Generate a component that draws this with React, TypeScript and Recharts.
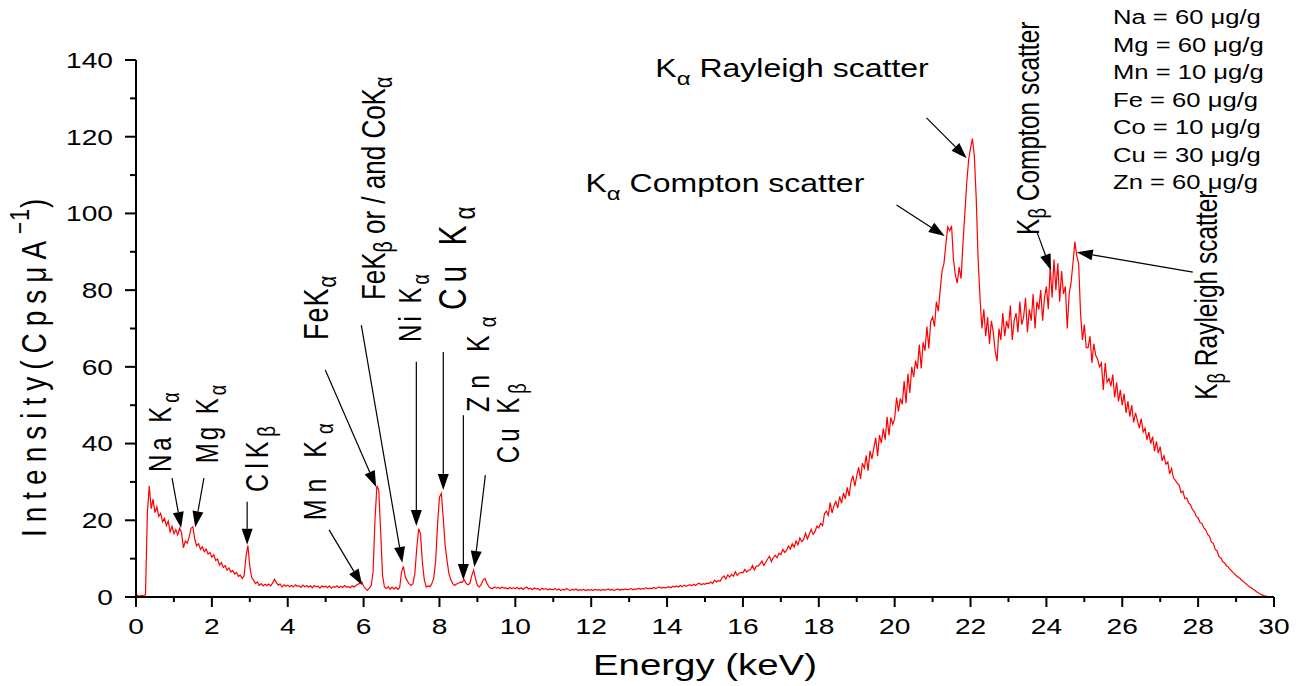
import React from "react";
import { LineChart, Line, XAxis, YAxis, ReferenceLine, ReferenceDot, Label } from "recharts";

// spectrum channels: 0.05 keV wide, starting at 0 keV
const CHANNEL_START = 0;
const CHANNEL_STEP = 0.05;

const counts0to5 = [
  0.3, 0.4, 0.2, 0.4, 0.3, 0.6, 22, 28.9, 23, 25.5, 22, 23.5, 21, 21.8, 19.6, 20.5, 18.6, 19.8, 17, 18.4,
  16.5, 17.6, 16.2, 17.9, 16.8, 12.8, 14.6, 14.0, 15.6, 17.9, 18.3, 15.0, 13.3, 13.9, 12.4, 13.1, 11.8, 12.5, 11.2, 11.6,
  10.4, 11.0, 9.5, 9.9, 8.3, 9.0, 7.7, 8.2, 7.0, 7.6, 6.5, 6.9, 6.0, 6.4, 5.4, 5.7, 4.8, 5.6, 10.5, 13.4,
  8.0, 5.0, 4.4, 3.5, 3.9, 3.0, 3.5, 2.9, 3.3, 3.0, 3.4, 2.9, 3.6, 4.6, 3.8, 3.1, 3.4, 2.6, 3.2, 2.8,
  3.1, 2.7, 3.0, 2.6, 3.2, 2.8, 2.9, 2.5, 3.1, 2.7, 3.0, 2.6, 2.9, 2.4, 3.0, 2.7, 2.8, 2.3, 2.9, 2.6,
];

const counts5to10 = [
  2.8, 2.4, 2.9, 2.3, 2.7, 2.5, 2.9, 2.4, 2.8, 2.5, 3.0, 2.6, 2.7, 2.4, 2.9, 2.6, 3.0, 3.3, 3.6, 4.0,
  2.8, 2.2, 1.7, 2.3, 3.0, 6.5, 20, 29.0, 27.8, 17, 5.5, 2.6, 2.2, 2.7, 2.0, 2.6, 2.1, 2.5, 2.0, 2.4,
  6.5, 8.0, 5.2, 4.2, 3.5, 3.0, 3.4, 6.0, 12.5, 17.8, 16.5, 9.0, 4.5, 2.6, 2.9, 2.7, 3.5, 5.0, 9.5, 19,
  26.0, 27.0, 20.5, 13.5, 9.5, 6.0, 4.5, 3.5, 3.0, 3.4, 3.6, 3.9, 3.8, 4.5, 3.6, 3.2, 3.5, 5.5, 7.0, 4.8,
  3.0, 2.6, 3.2, 4.4, 4.8, 3.6, 2.7, 2.3, 2.2, 2.6, 2.3, 2.5, 2.2, 2.6, 2.3, 2.4, 2.1, 2.5, 2.2, 2.4,
];

const counts10to15 = [
  2.2, 2.5, 2.1, 2.4, 2.0, 2.3, 2.6, 2.1, 2.3, 1.9, 2.4, 2.1, 2.2, 1.8, 2.3, 2.0, 2.2, 1.9, 2.1, 2.0,
  1.9, 2.2, 1.8, 2.1, 1.7, 2.0, 1.8, 2.2, 1.9, 1.7, 2.0, 1.8, 2.1, 1.7, 1.9, 1.8, 2.0, 1.7, 1.9, 1.8,
  1.9, 1.7, 2.0, 1.8, 1.9, 1.7, 2.0, 1.8, 1.9, 2.1, 1.8, 2.0, 1.7, 1.9, 2.1, 1.8, 2.0, 1.9, 2.1, 1.9,
  2.0, 2.2, 1.9, 2.1, 2.0, 2.3, 2.0, 2.2, 2.1, 2.4, 2.1, 2.3, 2.2, 2.5, 2.2, 2.4, 2.6, 2.3, 2.5, 2.4,
  2.5, 2.7, 2.4, 2.8, 2.6, 2.9, 2.6, 3.0, 2.7, 3.1, 2.8, 3.0, 3.2, 2.9, 3.3, 3.0, 3.4, 3.6, 3.2, 3.5,
];

const counts15to20 = [
  3.3, 3.6, 3.5, 3.9, 3.5, 4.4, 3.9, 4.3, 4.1, 5.0, 5.5, 4.7, 5.8, 5.2, 5.9, 5.4, 6.6, 5.6, 6.2, 6.4,
  6.3, 7.2, 6.5, 7.0, 7.1, 8.2, 7.0, 8.0, 8.1, 8.6, 9.4, 8.2, 9.0, 9.9, 10.6, 9.2, 10.3, 10.9, 10.2, 11.4,
  11.0, 12.4, 11.6, 12.2, 13.3, 12.5, 13.9, 13.0, 14.6, 13.6, 15.4, 14.4, 15.0, 16.6, 15.1, 16.4, 17.6, 16.3, 17.1, 18.5,
  18.0, 19.2, 18.6, 21.8, 22.4, 21.3, 24.6, 21.9, 23.8, 24.9, 23.2, 26.2, 24.4, 27.1, 25.6, 28.6, 26.3, 30.1, 31.6, 28.9,
  31.5, 33.8, 30.8, 34.9, 33.6, 36.9, 32.9, 38.1, 36.0, 38.8, 41.5, 36.8, 42.2, 40.1, 43.9, 41.0, 47.0, 42.2, 46.8, 45.0,
];

const counts20to25 = [
  46.5, 52.0, 48.4, 51.8, 50.2, 56.3, 50.5, 58.2, 53.2, 60.0, 57.4, 61.6, 59.5, 65.8, 59.6, 66.4, 64.2, 70.5, 64.8, 71.8,
  73, 70.5, 77, 74.5, 80, 85, 87, 92, 96.5, 95.5, 96.7, 88, 84, 81.8, 86, 83, 92, 100, 108, 114,
  117, 119.5, 115, 104, 88, 78, 70, 75, 68, 73, 66, 72, 69, 64, 61.5, 70, 67, 74, 68, 72,
  70, 76, 67, 72, 74, 69, 77, 71, 73, 78, 69, 75, 72, 79, 70, 77, 75, 80, 72, 78,
  81, 75, 86, 78, 88, 80, 87, 77, 85, 79, 81, 70, 79, 82, 87, 92.6, 89, 87, 74, 67,
];

const counts25to30 = [
  71, 65, 65, 68, 61, 66, 63, 62, 60, 61, 54, 61, 56, 57, 55, 58, 52, 56, 51, 54,
  50, 53, 48, 51, 47, 50, 45.5, 48, 46, 44, 46.5, 43, 44, 41, 43, 40, 41.8, 38, 40.6, 37.5,
  39.2, 35.5, 36.8, 34.6, 35.2, 32.1, 33.5, 31, 30.4, 29.6, 29.2, 27.2, 27.6, 25.6, 25.8, 24.5, 24, 22.8, 22.2, 21,
  20.6, 19.4, 19.2, 18, 17.5, 16.3, 15.8, 14.3, 14.0, 12.4, 12.0, 10.5, 10.2, 9.2, 8.8, 8.1, 7.8, 7.1, 6.6, 6.1,
  5.6, 5.2, 4.9, 4.3, 4.0, 3.5, 3.1, 2.7, 2.4, 2.0, 1.7, 1.3, 1.0, 0.7, 0.5, 0.3, 0.2, 0.1, 0.1, 0.05,
  0,
];

const energyTicks = [
  0, 1, 2, 3, 4, 5, 6, 7, 8, 9, 10, 11, 12, 13, 14, 15,
  16, 17, 18, 19, 20, 21, 22, 23, 24, 25, 26, 27, 28, 29, 30,
];
const intensityTicks = [0, 10, 20, 30, 40, 50, 60, 70, 80, 90, 100, 110, 120, 130, 140];

const concentrations = [
  "Na = 60 μg/g",
  "Mg = 60 μg/g",
  "Mn = 10 μg/g",
  "Fe = 60 μg/g",
  "Co = 10 μg/g",
  "Cu = 30 μg/g",
  "Zn = 60 μg/g",
];

// _x = subscript, ^{..} = superscript
const peakLabels = [
  { markup: "Na K_α", energy: 0.63, intensity: 32.6, size: 24, spacing: 4, vertical: true },
  { markup: "Mg K_α", energy: 1.87, intensity: 34.9, size: 24, spacing: 3, vertical: true },
  { markup: "ClK_β", energy: 3.19, intensity: 27.4, size: 25, spacing: 5, vertical: true },
  { markup: "Mn K_α", energy: 4.72, intensity: 20, size: 25, spacing: 7, vertical: true },
  { markup: "FeK_α", energy: 4.75, intensity: 67, size: 27, spacing: 1, vertical: true },
  { markup: "FeK_β or / and CoK_α", energy: 6.23, intensity: 77.4, size: 26, spacing: 0, vertical: true },
  { markup: "Ni K_α", energy: 7.23, intensity: 66.5, size: 24, spacing: 3, vertical: true },
  { markup: "Cu K_α", energy: 8.36, intensity: 74.8, size: 30, spacing: 6, vertical: true },
  { markup: "Zn K_α", energy: 9.02, intensity: 48.2, size: 25, spacing: 8, vertical: true },
  { markup: "Cu K_β", energy: 9.79, intensity: 34.9, size: 24, spacing: 4, vertical: true },
  { markup: "K_β Compton scatter", energy: 23.5, intensity: 94.4, size: 24.5, spacing: 0, vertical: true },
  { markup: "K_β Rayleigh scatter", energy: 28.2, intensity: 51.4, size: 24.5, spacing: 0, vertical: true },
  { markup: "K_α Rayleigh scatter", energy: 13.69, intensity: 135.6, size: 25, spacing: 0, vertical: false },
  { markup: "K_α Compton scatter", energy: 11.85, intensity: 105.6, size: 25, spacing: 0, vertical: false },
];

// [from energy, from intensity, to energy, to intensity]
const arrows = [
  [0.95, 31.0, 1.19, 18.0],
  [1.79, 31.0, 1.56, 18.2],
  [2.93, 24.8, 2.93, 13.6],
  [5.09, 17.5, 5.96, 3.1],
  [4.99, 59.2, 6.33, 28.7],
  [5.94, 70.9, 7.02, 8.9],
  [7.39, 61.3, 7.39, 18.5],
  [8.1, 63.9, 8.1, 27.9],
  [8.63, 47.4, 8.63, 4.4],
  [9.21, 31.8, 8.92, 7.8],
  [20.84, 124.9, 21.9, 114.4],
  [20.05, 102.2, 21.32, 94.1],
  [23.75, 95.2, 24.12, 85.2],
  [27.86, 84.7, 24.8, 89.9],
];

const spectrum = [
  ...counts0to5,
  ...counts5to10,
  ...counts10to15,
  ...counts15to20,
  ...counts20to25,
  ...counts25to30,
].map((intensity, i) => ({
  energy: Math.round((CHANNEL_START + i * CHANNEL_STEP) * 100) / 100,
  intensity,
}));

const FONT = "'Liberation Sans', Arial, sans-serif";
// the original figure is stretched sideways, so text is too
const STRETCH = 1.28;

function parseMarkup(s: string) {
  const out: { text: string; shift: number }[] = [];
  let buf = "";
  for (let i = 0; i < s.length; i++) {
    const c = s[i];
    if (c === "_" || c === "^") {
      if (buf) out.push({ text: buf, shift: 0 });
      buf = "";
      let t = "";
      if (s[i + 1] === "{") {
        const j = s.indexOf("}", i);
        t = s.slice(i + 2, j);
        i = j;
      } else {
        t = s[i + 1];
        i++;
      }
      out.push({ text: t, shift: c === "_" ? 1 : -1 });
    } else {
      buf += c;
    }
  }
  if (buf) out.push({ text: buf, shift: 0 });
  return out;
}

function RichText({ x, y, markup, size, spacing = 0, vertical = false, anchor = "start" }: any) {
  let offset = 0;
  const pieces = parseMarkup(markup).map((p, k) => {
    const target = p.shift === 1 ? 0.32 * size : p.shift === -1 ? -0.42 * size : 0;
    const dy = target - offset;
    offset = target;
    return (
      <tspan
        key={k}
        dy={dy}
        fontSize={p.shift ? size * 0.75 : size}
        letterSpacing={p.shift === -1 ? 1 : spacing}
      >
        {p.text}
      </tspan>
    );
  });
  return (
    <text
      transform={`translate(${x},${y}) scale(${STRETCH},1)${vertical ? " rotate(-90)" : ""}`}
      fontFamily={FONT}
      fontSize={size}
      textAnchor={anchor}
      dominantBaseline={vertical ? "central" : "alphabetic"}
      fill="#000"
      style={{ whiteSpace: "pre" }}
    >
      {pieces}
    </text>
  );
}

function arrowShape(props: any) {
  const { x1, y1, x2, y2 } = props;
  const ang = Math.atan2(y2 - y1, x2 - x1);
  const len = 16;
  const half = 5.5;
  const bx = x2 - len * Math.cos(ang);
  const by = y2 - len * Math.sin(ang);
  const pts = [
    [x2, y2],
    [bx + half * Math.sin(ang), by - half * Math.cos(ang)],
    [bx - half * Math.sin(ang), by + half * Math.cos(ang)],
  ]
    .map((p) => p.join(","))
    .join(" ");
  return (
    <g>
      <line x1={x1} y1={y1} x2={bx} y2={by} stroke="#000" strokeWidth={1.2} />
      <polygon points={pts} fill="#000" />
    </g>
  );
}

function EnergyTick({ x, y, payload }: any) {
  const major = payload.value % 2 === 0;
  return (
    <g>
      <line x1={x} y1={y} x2={x} y2={y + (major ? 10 : 5)} stroke="#000" strokeWidth={2} />
      {major && (
        <text
          transform={`translate(${x},${y + 37}) scale(${STRETCH},1)`}
          textAnchor="middle"
          fontFamily={FONT}
          fontSize={22}
          fill="#000"
        >
          {payload.value}
        </text>
      )}
    </g>
  );
}

function IntensityTick({ x, y, payload }: any) {
  const major = payload.value % 20 === 0;
  return (
    <g>
      <line x1={x} y1={y} x2={x - (major ? 11 : 6)} y2={y} stroke="#000" strokeWidth={2} />
      {major && (
        <text
          transform={`translate(${x - 23},${y}) scale(${STRETCH},1)`}
          textAnchor="end"
          dominantBaseline="central"
          fontFamily={FONT}
          fontSize={22}
          fill="#000"
        >
          {payload.value}
        </text>
      )}
    </g>
  );
}

export default function App() {
  return (
    <div style={{ position: "absolute", left: 0, top: 0, width: 1307, height: 686, background: "#fff" }}>
      <LineChart
        width={1307}
        height={686}
        data={spectrum}
        margin={{ top: 60, right: 33, left: 0, bottom: 0 }}
      >
        <XAxis
          dataKey="energy"
          type="number"
          domain={[0, 30]}
          ticks={energyTicks}
          interval={0}
          height={89}
          tickSize={0}
          tickMargin={0}
          tickLine={false}
          tick={<EnergyTick />}
          axisLine={{ stroke: "#000", strokeWidth: 2 }}
        >
          <Label
            content={(p: any) => {
              const vb = p.viewBox || { x: 136, y: 597, width: 1137 };
              return (
                <RichText
                  x={vb.x + vb.width / 2}
                  y={vb.y + 78}
                  markup="Energy (keV)"
                  size={30}
                  anchor="middle"
                />
              );
            }}
          />
        </XAxis>
        <YAxis
          type="number"
          domain={[0, 140]}
          ticks={intensityTicks}
          interval={0}
          width={136}
          tickSize={0}
          tickMargin={0}
          tickLine={false}
          tick={<IntensityTick />}
          axisLine={{ stroke: "#000", strokeWidth: 2 }}
        >
          <Label
            content={(p: any) => {
              const vb = p.viewBox || { x: 0, y: 60, width: 136, height: 537 };
              return (
                <RichText
                  x={vb.x + 34}
                  y={vb.y + vb.height - 60}
                  markup="Intensity(CpsμA^{−1})"
                  size={28}
                  spacing={7}
                  vertical
                />
              );
            }}
          />
        </YAxis>
        <Line
          dataKey="intensity"
          type="linear"
          stroke="#ff0000"
          strokeWidth={1.2}
          dot={false}
          activeDot={false}
          isAnimationActive={false}
        />
        {arrows.map((a, k) => (
          <ReferenceLine
            key={`arrow-${k}`}
            segment={[
              { x: a[0], y: a[1] },
              { x: a[2], y: a[3] },
            ]}
            shape={arrowShape}
            ifOverflow="visible"
          />
        ))}
        {peakLabels.map((l, k) => (
          <ReferenceDot
            key={`label-${k}`}
            x={l.energy}
            y={l.intensity}
            r={0}
            ifOverflow="visible"
            shape={(p: any) => (
              <RichText
                x={p.cx}
                y={p.cy}
                markup={l.markup}
                size={l.size}
                spacing={l.spacing}
                vertical={l.vertical}
              />
            )}
          />
        ))}
      </LineChart>
      <div
        style={{
          position: "absolute",
          left: 1113,
          top: 4,
          fontFamily: FONT,
          fontSize: 20,
          lineHeight: "27.5px",
          color: "#000",
          transform: `scaleX(${STRETCH})`,
          transformOrigin: "left top",
          whiteSpace: "pre",
        }}
      >
        {concentrations.map((c) => (
          <div key={c}>{c}</div>
        ))}
      </div>
    </div>
  );
}
